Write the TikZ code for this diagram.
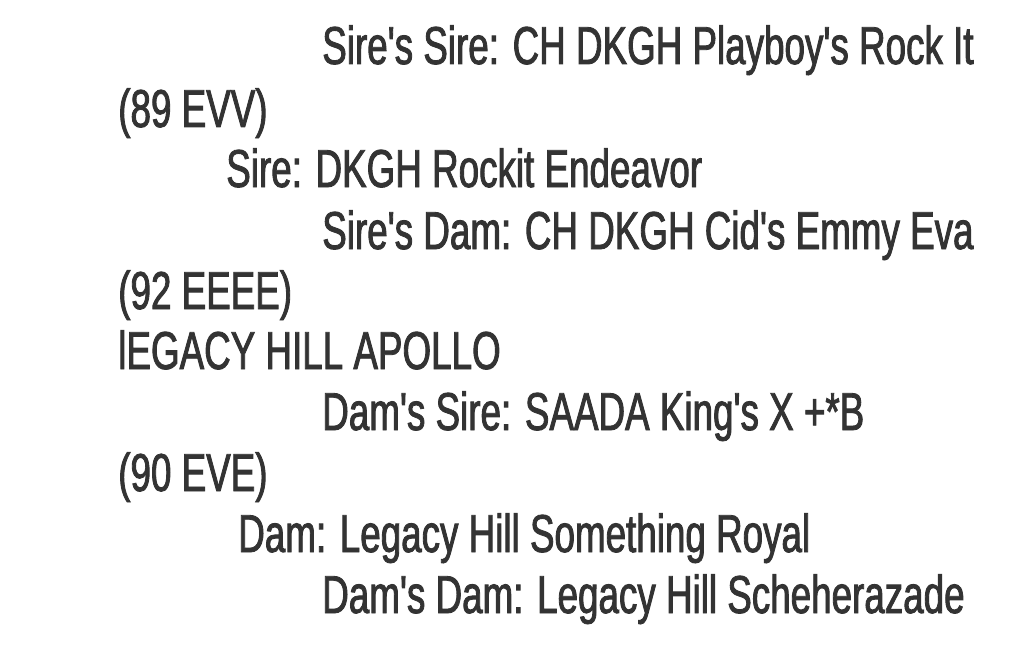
\documentclass[tikz,border=0pt]{standalone}
\usepackage{fontspec}
\setmainfont{Liberation Sans}[FakeStretch=0.69,FakeBold=1.6,Ligatures=TeXOff]
\definecolor{ink}{HTML}{333333}
\tikzset{line/.style={anchor=base west,inner sep=0pt,text=ink,font=\fontsize{40}{40}\selectfont}}
\begin{document}
\begin{tikzpicture}[x=0.75pt,y=-0.75pt]
\useasboundingbox (0,0) rectangle (1030,649);

\node[line] (sss) at (322,64) {Sire's Sire: CH DKGH Playboy's Rock It};
\node[line] (sssreg) at (118,127) {(89 EVV)};
\node[line] (sire) at (226,187) {Sire: DKGH Rockit Endeavor};
\node[line] (ssd) at (322,249) {Sire's Dam: CH DKGH Cid's Emmy Eva};
\node[line] (ssdreg) at (118,309) {(92 EEEE)};
\node[line] (dog) at (118,369) {lEGACY HILL APOLLO};

\node[line] (dss) at (322,430) {Dam's Sire: SAADA King's X +*B};
\node[line] (dssreg) at (118,491) {(90 EVE)};
\node[line] (dam) at (238,552) {Dam: Legacy Hill Something Royal};
\node[line] (dsd) at (322,613) {Dam's Dam: Legacy Hill Scheherazade};
\end{tikzpicture}
\end{document}
